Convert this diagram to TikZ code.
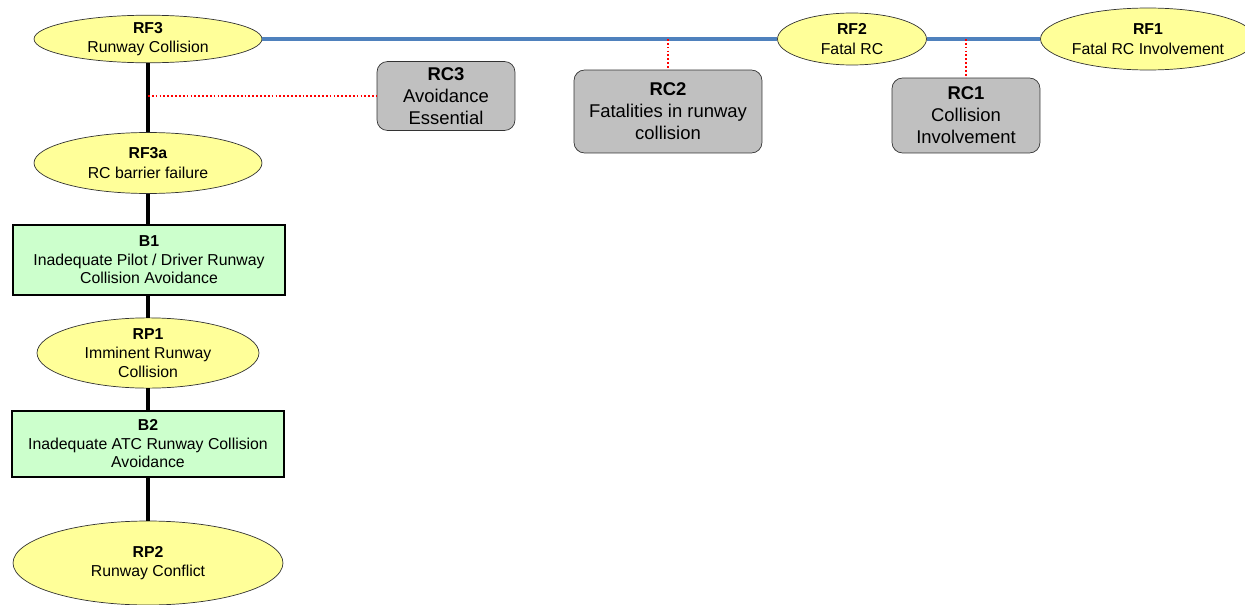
\documentclass[tikz,border=0pt]{standalone}
\usepackage{fontspec}
\setmainfont{Liberation Sans}
\usepackage{tikz}
\usetikzlibrary{positioning,shapes.geometric}
\definecolor{factorfill}{HTML}{FFFF99}
\definecolor{barrierfill}{HTML}{CCFFCC}
\definecolor{controlfill}{HTML}{C0C0C0}
\definecolor{chainblue}{HTML}{4F81BD}
\tikzset{
  factor/.style={shape=ellipse,draw=black!80,fill=factorfill,inner sep=0pt,align=center,font=\fontsize{9}{11}\selectfont},
  barrier/.style={shape=rectangle,draw=black,line width=0.9pt,fill=barrierfill,inner sep=0pt,align=center,font=\fontsize{9}{10.5}\selectfont},
  control/.style={shape=rectangle,rounded corners=6pt,draw=black!80,fill=controlfill,inner sep=0pt,align=center,font=\fontsize{10.5}{12.5}\selectfont},
  spine/.style={line width=2.8pt,draw=black},
  chain/.style={line width=2.1pt,draw=chainblue},
  tie/.style={line width=1pt,draw=red,dash pattern=on 1pt off 1.2pt}
}
\begin{document}
\begin{tikzpicture}[x=0.02cm,y=-0.02cm]
    \useasboundingbox (0,0) rectangle (1245,605);
    \node[factor,minimum width=4.56cm,minimum height=0.94cm] (RF3) at (148,39) {\textbf{RF3}\\Runway Collision};
    \node[factor,minimum width=2.98cm,minimum height=1.04cm] (RF2) at (852,39) {\textbf{RF2}\\Fatal RC};
    \node[factor,minimum width=4.2cm,minimum height=1.24cm] (RF1) at (1148,39) {\textbf{RF1}\\Fatal RC Involvement};
    \node[factor,minimum width=4.56cm,minimum height=1.22cm] (RF3a) at (148,163) {\textbf{RF3a}\\RC barrier failure};
    \node[barrier,minimum width=5.44cm,minimum height=1.4cm] (B1) at (149,260) {\textbf{B1}\\Inadequate Pilot / Driver Runway\\Collision Avoidance};
    \node[factor,minimum width=4.44cm,minimum height=1.18cm] (RP1) at (148,353) {\textbf{RP1}\\Imminent Runway\\Collision};
    \node[barrier,minimum width=5.44cm,minimum height=1.32cm] (B2) at (148,444) {\textbf{B2}\\Inadequate ATC Runway Collision\\Avoidance};
    \node[factor,minimum width=5.4cm,minimum height=1.68cm] (RP2) at (148,563) {\textbf{RP2}\\Runway Conflict};
    \node[control,minimum width=2.76cm,minimum height=1.38cm] (RC3) at (446,96) {\textbf{RC3}\\Avoidance\\Essential};
    \node[control,minimum width=3.76cm,minimum height=1.66cm] (RC2) at (668,111.5) {\textbf{RC2}\\Fatalities in runway\\collision};
    \node[control,minimum width=2.96cm,minimum height=1.5cm] (RC1) at (966,115.5) {\textbf{RC1}\\Collision\\Involvement};
    \coordinate (tap3) at (148,96);
    \coordinate (tap2) at (668,39);
    \coordinate (tap1) at (966,39);
    \draw[chain] (RF3) -- (RF2);
    \draw[chain] (RF2) -- (RF1);
    \draw[spine] (RF3) -- (RF3a);
    \draw[spine] (RF3a) -- (RF3a |- B1.north);
    \draw[spine] (RF3a |- B1.south) -- (RP1);
    \draw[spine] (RP1) -- (B2);
    \draw[spine] (B2) -- (RP2);
    \draw[tie] (tap3) -- (RC3);
    \draw[tie] (tap2) -- (RC2);
    \draw[tie] (tap1) -- (RC1);
\end{tikzpicture}
\end{document}
